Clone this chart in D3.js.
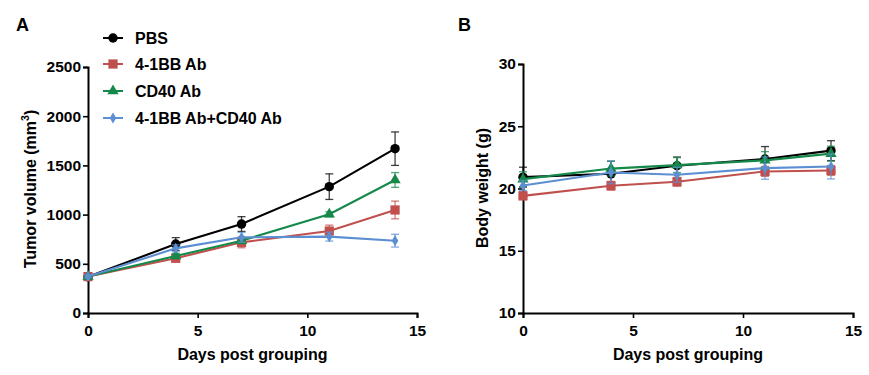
<!DOCTYPE html>
<html><head><meta charset="utf-8">
<script src="https://cdn.jsdelivr.net/npm/d3@7"></script>
<style>body{margin:0;background:#fff}svg{display:block;font-family:"Liberation Sans",Arial,sans-serif;font-weight:bold}</style>
</head><body><svg id="c" width="869" height="375"></svg>
<script>
const days = [0, 4, 7, 11, 14];
const seriesNames = ["PBS", "4-1BB Ab", "CD40 Ab", "4-1BB Ab+CD40 Ab"];
const seriesColors = ["#000000", "#c0504d", "#15894a", "#5b8fd2"];
const seriesShapes = ["circle", "square", "triangle", "diamond"];

// Panel A: tumor volume (mm3)
const tumorPBS = [368, 701, 904, 1284, 1670];
const tumorPBSErr = [20, 65, 75, 130, 170];
const tumor41BB = [370, 556, 718, 833, 1047];
const tumor41BBErr = [15, 30, 55, 60, 90];
const tumorCD40 = [370, 579, 735, 1003, 1352];
const tumorCD40Err = [15, 25, 30, 25, 75];
const tumorCombo = [372, 657, 769, 776, 735];
const tumorComboErr = [15, 35, 50, 45, 65];

// Panel B: body weight (g)
const weightPBS = [20.91, 21.18, 21.83, 22.37, 23.04];
const weightPBSErr = [0.8, 1.0, 0.7, 1.0, 0.8];
const weight41BB = [19.41, 20.22, 20.54, 21.37, 21.45];
const weight41BBErr = [0.3, 0.35, 0.35, 0.4, 0.4];
const weightCD40 = [20.75, 21.6, 21.88, 22.26, 22.8];
const weightCD40Err = [0.6, 0.6, 0.6, 0.7, 0.6];
const weightCombo = [20.24, 21.29, 21.1, 21.64, 21.77];
const weightComboErr = [0.4, 0.9, 0.6, 0.9, 1.0];

const xTicks = [0, 5, 10, 15];
const yTicksA = [0, 500, 1000, 1500, 2000, 2500];
const yTicksB = [10, 15, 20, 25, 30];

const svg = d3.select("#c");

function shapePath(shape) {
  const map = {circle: [d3.symbolCircle, 70], square: [d3.symbolSquare, 85], triangle: [d3.symbolTriangle, 55], diamond: [d3.symbolDiamond, 36]};
  const s = map[shape];
  return d3.symbol().type(s[0]).size(s[1])();
}

function panel(opts) {
  const x = d3.scaleLinear().domain([0, 15]).range([opts.x0, opts.x1]);
  const y = d3.scaleLinear().domain(opts.yDomain).range([opts.yBottom, opts.yTop]);
  const g = svg.append("g");

  const xa = g.append("g").attr("transform", `translate(0,${opts.yBottom})`)
    .call(d3.axisBottom(x).tickValues(xTicks).tickSize(5).tickPadding(4).tickFormat(d3.format("d")));
  const ya = g.append("g").attr("transform", `translate(${opts.x0},0)`)
    .call(d3.axisLeft(y).tickValues(opts.yTicks).tickSize(5).tickPadding(2).tickFormat(d3.format("d")));
  [xa, ya].forEach(a => {
    a.select(".domain").attr("stroke", "#000").attr("stroke-width", 2);
    a.selectAll(".tick line").attr("stroke", "#000").attr("stroke-width", 1.6);
    a.selectAll("text").attr("fill", "#000").attr("font-size", 15.5).attr("font-weight", "bold").attr("font-family", "Liberation Sans, Arial, sans-serif");
  });
  xa.selectAll("text").attr("dy", "0.9em");

  g.append("text").attr("x", (opts.x0 + opts.x1) / 2).attr("y", 360).attr("text-anchor", "middle")
    .attr("font-size", 16).text("Days post grouping");

  const yt = g.append("text").attr("transform", `translate(${opts.yTitleX},${opts.yTitleY}) rotate(-90)`)
    .attr("text-anchor", "middle").attr("font-size", 16);
  opts.yTitle(yt);

  g.append("text").attr("x", opts.labelX).attr("y", 31).attr("font-size", 18).text(opts.label);

  opts.series.forEach((s, i) => {
    const col = seriesColors[i];
    const sg = g.append("g");
    s.vals.forEach((v, j) => {
      const cx = x(days[j]);
      const e = s.err[j];
      sg.append("line").attr("x1", cx).attr("x2", cx).attr("y1", y(v - e)).attr("y2", y(v + e))
        .attr("stroke", col).attr("stroke-width", 1.3).attr("stroke-opacity", 0.75);
      [v - e, v + e].forEach(w => sg.append("line").attr("x1", cx - 4).attr("x2", cx + 4).attr("y1", y(w)).attr("y2", y(w))
        .attr("stroke", col).attr("stroke-width", 1.3).attr("stroke-opacity", 0.75));
    });
    sg.append("path").datum(s.vals)
      .attr("d", d3.line().x((d, j) => x(days[j])).y(d => y(d)))
      .attr("fill", "none").attr("stroke", col).attr("stroke-width", 2.1);
    s.vals.forEach((v, j) => {
      sg.append("path").attr("d", shapePath(seriesShapes[i]))
        .attr("transform", `translate(${x(days[j])},${y(v)})`).attr("fill", col);
    });
  });
}

panel({
  x0: 88, x1: 417, yBottom: 313, yTop: 67, yDomain: [0, 2500], yTicks: yTicksA,
  yTitleX: 36, yTitleY: 189, label: "A", labelX: 16,
  yTitle: t => { t.append("tspan").text("Tumor volume (mm"); t.append("tspan").attr("font-size", 10.5).attr("dy", -7).text("3"); t.append("tspan").attr("dy", 7).text(")"); },
  series: [
    {vals: tumorPBS, err: tumorPBSErr},
    {vals: tumor41BB, err: tumor41BBErr},
    {vals: tumorCD40, err: tumorCD40Err},
    {vals: tumorCombo, err: tumorComboErr}
  ]
});

panel({
  x0: 523, x1: 853, yBottom: 313, yTop: 64, yDomain: [10, 30], yTicks: yTicksB,
  yTitleX: 488, yTitleY: 188, label: "B", labelX: 458,
  yTitle: t => t.text("Body weight (g)"),
  series: [
    {vals: weightPBS, err: weightPBSErr},
    {vals: weight41BB, err: weight41BBErr},
    {vals: weightCD40, err: weightCD40Err},
    {vals: weightCombo, err: weightComboErr}
  ]
});

// legend
const lg = svg.append("g");
seriesNames.forEach((n, i) => {
  const yy = [38, 64, 91, 118][i];
  lg.append("line").attr("x1", 103).attr("x2", 123).attr("y1", yy).attr("y2", yy).attr("stroke", seriesColors[i]).attr("stroke-width", 2);
  lg.append("path").attr("d", shapePath(seriesShapes[i])).attr("transform", `translate(113,${yy})`).attr("fill", seriesColors[i]);
  lg.append("text").attr("x", 135).attr("y", yy + 5.5).attr("font-size", 16).text(n);
});
</script></body></html>
